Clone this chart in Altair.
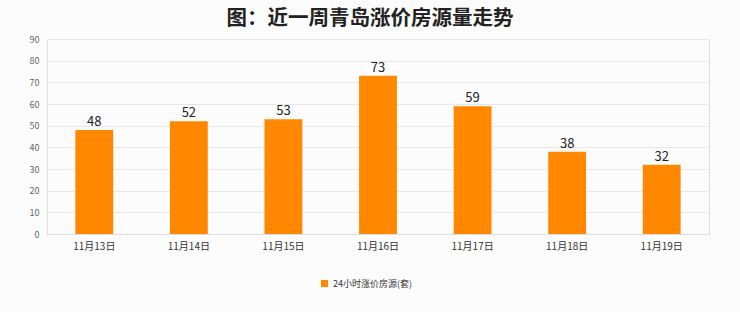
import altair as alt
import pandas as pd

dates = ["11月13日", "11月14日", "11月15日", "11月16日", "11月17日", "11月18日", "11月19日"]
values = [48, 52, 53, 73, 59, 38, 32]
series_name = "24小时涨价房源(套)"

df = pd.DataFrame({"date": dates, "value": values, "series": [series_name] * len(dates)})

FONT = "Noto Sans CJK SC"

base = alt.Chart(df).encode(
    x=alt.X("date:N", sort=dates,
            scale=alt.Scale(paddingInner=0.6, paddingOuter=0.3),
            axis=alt.Axis(title=None, labelAngle=0, labelFont=FONT, labelFontSize=10,
                          labelColor="#333333", domainColor="#dddddd", ticks=False,
                          labelPadding=7, grid=False)),
    y=alt.Y("value:Q", scale=alt.Scale(domain=[0, 90], nice=False),
            axis=alt.Axis(title=None, values=list(range(0, 91, 10)), labelFont=FONT,
                          labelFontSize=9, labelColor="#666666", domainColor="#dddddd",
                          ticks=False, labelPadding=8, gridColor="#e8e8e8")),
)

bars = base.mark_bar(color="#FF8800").encode(
    color=alt.Color("series:N", scale=alt.Scale(range=["#FF8800"]),
                    legend=alt.Legend(title=None, orient="none", legendX=273, legendY=240,
                                      symbolType="square", symbolSize=50,
                                      labelFont=FONT, labelFontSize=9, labelColor="#333333"))
)

labels = base.mark_text(dy=-8, font=FONT, fontSize=13, color="#222222").encode(
    text="value:Q"
)

chart = (bars + labels).properties(
    width=662, height=195,
    background="#fcfcfc",
    padding={"left": 47, "top": 39, "right": 31, "bottom": 78},
    autosize=alt.AutoSizeParams(type="none"),
    title=alt.TitleParams("图：近一周青岛涨价房源量走势", font=FONT, fontSize=20.5,
                          fontWeight="bold", color="#222222", offset=6, dx=-8,
                          anchor="middle"),
).configure_view(stroke="#dddddd")

chart.save("out.html", embed_options={"renderer": "svg", "actions": False})
